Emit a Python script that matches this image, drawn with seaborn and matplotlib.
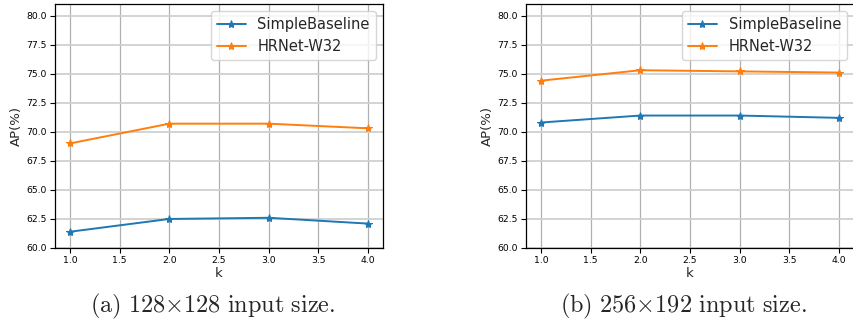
import matplotlib
matplotlib.use('Agg')
import matplotlib.pyplot as plt
import seaborn as sns
import pandas as pd

# Data
k_values = [1.0, 2.0, 3.0, 4.0]
series_names = ['SimpleBaseline', 'HRNet-W32']
ap_128_simple = [61.4, 62.5, 62.6, 62.1]
ap_128_hrnet = [69.0, 70.7, 70.7, 70.3]
ap_256_simple = [70.8, 71.4, 71.4, 71.2]
ap_256_hrnet = [74.4, 75.3, 75.2, 75.1]
captions = [r'$\mathrm{(a)\ 128{\times}128\ input\ size.}$',
            r'$\mathrm{(b)\ 256{\times}192\ input\ size.}$']
y_ticks = [60.0, 62.5, 65.0, 67.5, 70.0, 72.5, 75.0, 77.5, 80.0]
x_ticks = [1.0, 1.5, 2.0, 2.5, 3.0, 3.5, 4.0]

sns.set_style('ticks')
plt.rcParams.update({
    'font.family': 'DejaVu Sans',
    'mathtext.fontset': 'cm',
    'axes.edgecolor': 'black',
    'xtick.color': 'black',
    'ytick.color': 'black',
    'xtick.major.size': 3.5,
    'ytick.major.size': 3.5,
})

colors = ['#1f77b4', '#ff7f0e']


def make_df(simple, hrnet):
    rows = []
    for name, vals in zip(series_names, [simple, hrnet]):
        for k, v in zip(k_values, vals):
            rows.append({'k': k, 'AP': v, 'model': name})
    return pd.DataFrame(rows)


panels = [make_df(ap_128_simple, ap_128_hrnet),
          make_df(ap_256_simple, ap_256_hrnet)]

fig = plt.figure(figsize=(8.54, 3.2), dpi=100)
axes = [fig.add_axes([55 / 854, 72 / 320, 328 / 854, 244 / 320]),
        fig.add_axes([526 / 854, 72 / 320, 328 / 854, 244 / 320])]

for ax, df, cap in zip(axes, panels, captions):
    for name, col in zip(series_names, colors):
        sub = df[df['model'] == name]
        sns.lineplot(data=sub, x='k', y='AP', ax=ax, color=col, marker='*',
                     markersize=6, markeredgecolor=col, linewidth=1.4,
                     label=name)
    ax.set_ylim(60, 81)
    ax.set_xlim(0.85, 4.15)
    ax.set_yticks(y_ticks)
    ax.set_xticks(x_ticks)
    ax.set_yticklabels([f'{t:.1f}' for t in y_ticks])
    ax.set_xticklabels([f'{t:.1f}' for t in x_ticks])
    ax.tick_params(labelsize=6.7, pad=2.5)
    ax.xaxis.grid(True, color='#b0b0b0', linewidth=0.9)
    ax.yaxis.grid(True, color='#d0d0d0', linewidth=1.3)
    ax.set_axisbelow(True)
    ax.set_xlabel('k', fontsize=9.5, labelpad=1)
    ax.set_ylabel('AP(%)', fontsize=9.5, labelpad=2)
    for s in ax.spines.values():
        s.set_linewidth(0.9)
    ax.legend(loc='upper right', fontsize=10.5, frameon=True)
    ax.text(0.48, -0.18, cap, transform=ax.transAxes, ha='center', va='top',
            fontsize=17.5)

fig.savefig('out.png', dpi=100)
